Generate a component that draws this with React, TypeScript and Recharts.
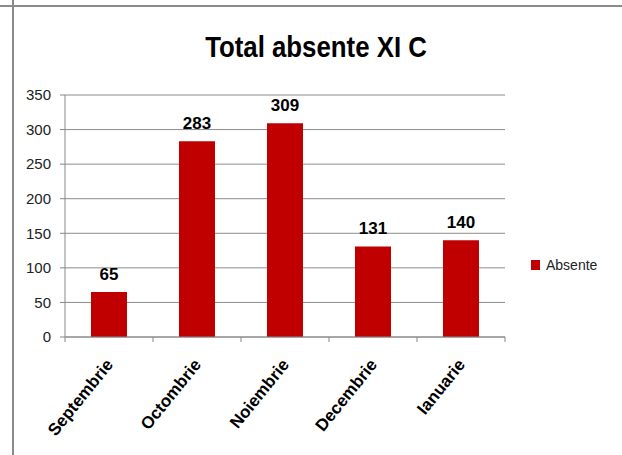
import React from 'react';
import { BarChart, Bar, XAxis, YAxis, CartesianGrid, LabelList, Legend } from 'recharts';

const months = ['Septembrie', 'Octombrie', 'Noiembrie', 'Decembrie', 'Ianuarie'];
const absente = [65, 283, 309, 131, 140];
const yTicks = [0, 50, 100, 150, 200, 250, 300, 350];

const chartData = months.map((month, i) => ({ month, absente: absente[i] }));

const MonthTick = ({ x, y, payload, index }: any) => {
  const half = payload && payload.offset ? payload.offset : 44;
  return (
    <g>
      <line x1={x - half} y1={y - 8} x2={x - half} y2={y - 3} stroke="#888" />
      {index === months.length - 1 && (
        <line x1={x + half} y1={y - 8} x2={x + half} y2={y - 3} stroke="#888" />
      )}
      <text
        x={x + 5}
        y={y + 20}
        textAnchor="end"
        transform={`rotate(-51, ${x + 5}, ${y + 20})`}
        fontFamily="'Liberation Sans', Arial, sans-serif"
        fontWeight="bold"
        fontSize={17}
        fill="#000"
      >
        {payload.value}
      </text>
    </g>
  );
};

const LegendBox = () => (
  <div style={{ display: 'flex', alignItems: 'center', fontFamily: "'Liberation Sans', Arial, sans-serif", fontSize: 14, color: '#222' }}>
    <span style={{ width: 9, height: 10, background: '#C00000', display: 'inline-block', marginRight: 6 }} />
    Absente
  </div>
);

export default function App() {
  return (
    <div style={{ position: 'absolute', left: 0, top: 0, width: 622, height: 455, background: '#fff', overflow: 'hidden' }}>
      <div style={{ position: 'absolute', left: 0, top: 5, width: 622, height: 2, background: '#8a8a8a' }} />
      <div style={{ position: 'absolute', left: 12, top: 0, width: 2, height: 455, background: '#8a8a8a' }} />
      <div
        style={{
          position: 'absolute',
          left: 0,
          width: 632,
          top: 30,
          textAlign: 'center',
          fontFamily: "'Liberation Sans', Arial, sans-serif",
          fontWeight: 'bold',
          fontSize: 30,
          color: '#000',
          transform: 'scaleX(0.86)',
          transformOrigin: '316px 0',
        }}
      >
        Total absente XI C
      </div>
      <BarChart width={622} height={455} data={chartData} margin={{ top: 95, right: 117, left: 25, bottom: 0 }}>
        <CartesianGrid vertical={false} stroke="#8c8c8c" />
        <XAxis
          dataKey="month"
          height={102}
          axisLine={{ stroke: '#888' }}
          tickLine={false}
          tick={<MonthTick />}
          interval={0}
        />
        <YAxis
          domain={[0, 350]}
          ticks={yTicks}
          width={40}
          axisLine={{ stroke: '#888' }}
          tickLine={{ stroke: '#888' }}
          tickSize={5}
          tickMargin={9}
          tick={{ fontSize: 15, fill: '#222', fontFamily: "'Liberation Sans', Arial, sans-serif" }}
        />
        <Legend
          content={<LegendBox />}
          wrapperStyle={{ position: 'absolute', left: 531, top: 257, width: 90 }}
        />
        <Bar dataKey="absente" name="Absente" fill="#C00000" barSize={36} isAnimationActive={false}>
          <LabelList
            dataKey="absente"
            position="top"
            offset={12}
            style={{ fontSize: 17, fontWeight: 'bold', fill: '#000', fontFamily: "'Liberation Sans', Arial, sans-serif" }}
          />
        </Bar>
      </BarChart>
    </div>
  );
}
